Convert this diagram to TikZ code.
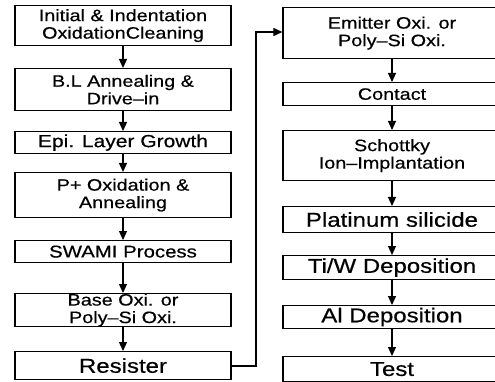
\documentclass[tikz,border=0pt]{standalone}
\usepackage{fontspec}
\setmainfont{Liberation Sans}[FakeStretch=1.2,FakeBold=0.5]
\usetikzlibrary{arrows.meta}
\begin{document}
\begin{tikzpicture}[x=1pt,y=-1pt,
  box/.style={draw=black, line width=1.2pt, inner sep=0pt, align=center, anchor=north, font=\fontsize{16.5}{17.5}\selectfont},
  lbox/.style={box, minimum width=216pt},
  rbox/.style={box, minimum width=218pt},
  big/.style={font=\fontsize{20}{22}\selectfont},
  flow/.style={line width=1.2pt, -{Triangle[length=9pt,width=8pt]}}
]
\clip (0,0) rectangle (495,382);
\fill[white] (0,0) rectangle (495,382);
% left column
\node[lbox, minimum height=40pt] (l1) at (123,5) {Initial \& Indentation\\OxidationCleaning};
\node[lbox, minimum height=42pt] (l2) at (123,68) {B.L Annealing \&\\Drive--in};
\node[lbox, minimum height=22pt, font=\fontsize{17.5}{20}\selectfont] (l3) at (123,131) {Epi. Layer Growth};
\node[lbox, minimum height=45pt] (l4) at (123,172) {P+ Oxidation \&\\Annealing};
\node[lbox, minimum height=22pt, font=\fontsize{17}{19}\selectfont] (l5) at (123,240) {SWAMI Process};
\node[lbox, minimum height=32pt] (l6) at (123,293) {Base Oxi. or\\Poly--Si Oxi.};
\node[lbox, minimum height=28pt, big] (l7) at (123,351) {Resister};
% right column
\node[rbox, minimum height=51pt] (r1) at (392,7) {Emitter Oxi. or\\Poly--Si Oxi.};
\node[rbox, minimum height=23pt] (r2) at (392,82) {Contact};
\node[rbox, minimum height=50pt] (r3) at (392,130) {Schottky\\Ion--Implantation};
\node[rbox, minimum height=26pt, big] (r4) at (392,206) {Platinum silicide};
\node[rbox, minimum height=24pt, big] (r5) at (392,255) {Ti/W Deposition};
\node[rbox, minimum height=23pt, big] (r6) at (392,305) {Al Deposition};
\node[rbox, minimum height=25pt, big] (r7) at (392,356) {Test};
% arrows
\foreach \a/\b in {l1/l2,l2/l3,l3/l4,l4/l5,l5/l6,l6/l7,r1/r2,r2/r3,r3/r4,r4/r5,r5/r6,r6/r7}
  \draw[flow] (\a.south) -- (\b.north);
\coordinate (c1) at (256,366);
\coordinate (c2) at (256,32);
\draw[flow] (l7.east |- c1) -- (c1) -- (c2) -- (c2 -| r1.west);
\end{tikzpicture}
\end{document}
